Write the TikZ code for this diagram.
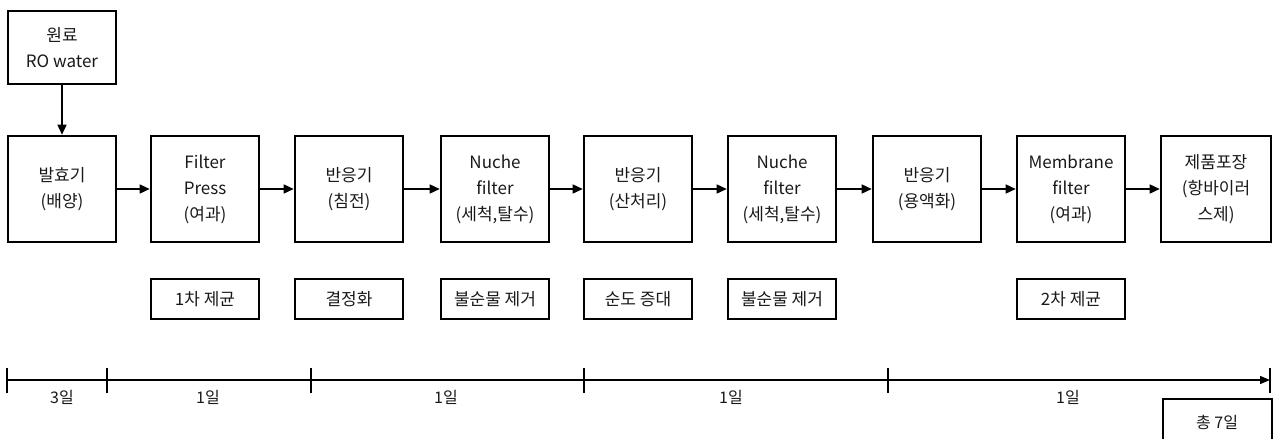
\documentclass[tikz,border=0pt]{standalone}
\usepackage{fontspec}
\setmainfont{Noto Sans CJK KR}
\usetikzlibrary{arrows.meta,positioning}
\tikzset{
  every node/.style={font=\fontsize{17}{26}\selectfont, text=black!90},
  procbox/.style={draw=black, line width=2.6pt, minimum width=108pt, minimum height=106pt, align=center, inner sep=1pt},
  srcbox/.style={draw=black, line width=2.6pt, minimum width=108pt, minimum height=73pt, align=center, inner sep=1pt},
  notebox/.style={draw=black, line width=2.6pt, minimum width=108pt, minimum height=40pt, align=center, inner sep=1pt},
  flow/.style={line width=1.5pt, -{Triangle[length=10pt,width=9pt]}},
  tline/.style={line width=1.2pt},
  tlabel/.style={font=\fontsize{16}{18}\selectfont}
}
\begin{document}
\begin{tikzpicture}[x=1pt,y=-1pt]
\useasboundingbox (0,0) rectangle (1273,439);
% source box
\node[srcbox] (src) at (62,47.5) {원료\\RO water};
% process boxes
\node[procbox] (p1) at (62,189) {발효기\\(배양)};
\node[procbox] (p2) at (205,189) {Filter\\Press\\(여과)};
\node[procbox] (p3) at (349,189) {반응기\\(침전)};
\node[procbox] (p4) at (495,189) {Nuche\\filter\\(세척,탈수)};
\node[procbox] (p5) at (638,189) {반응기\\(산처리)};
\node[procbox] (p6) at (782,189) {Nuche\\filter\\(세척,탈수)};
\node[procbox] (p7) at (927,189) {반응기\\(용액화)};
\node[procbox] (p8) at (1071,189) {Membrane\\filter\\(여과)};
\node[procbox, minimum width=110pt] (p9) at (1216,189) {제품포장\\(항바이러\\스제)};
% arrows
\draw[flow] (src.south) -- (p1.north);
\foreach \a/\b in {p1/p2,p2/p3,p3/p4,p4/p5,p5/p6,p6/p7,p7/p8,p8/p9}
  \draw[flow] (\a.east) -- (\b.west);
% note boxes
\node[notebox] (n2) at (205,299) {1차 제균};
\node[notebox] (n3) at (349,299) {결정화};
\node[notebox] (n4) at (495,299) {불순물 제거};
\node[notebox] (n5) at (638,299) {순도 증대};
\node[notebox] (n6) at (782,299) {불순물 제거};
\node[notebox] (n8) at (1071,299) {2차 제균};
% timeline
\coordinate (t0) at (7,380);
\coordinate (t1) at (107,380);
\coordinate (t2) at (311,380);
\coordinate (t3) at (584,380);
\coordinate (t4) at (888,380);
\coordinate (t5) at (1270,380);
\draw[tline, -{Triangle[length=10pt,width=8pt]}] (t0) -- (t5);
\foreach \t in {t0,t1,t2,t3,t4,t5}
  \draw[tline] ([yshift=-13pt]\t) -- ([yshift=12pt]\t);
\node[tlabel] (d1) at (62,397) {3일};
\node[tlabel] (d2) at (208,397) {1일};
\node[tlabel] (d3) at (446,397) {1일};
\node[tlabel] (d4) at (731,397) {1일};
\node[tlabel] (d5) at (1068,397) {1일};
% total
\draw[line width=1.2pt] (1163,439) -- (1163,399) -- (1272,399) -- (1272,439);
\node[tlabel] (tot) at (1217,422) {총 7일};
\end{tikzpicture}
\end{document}
